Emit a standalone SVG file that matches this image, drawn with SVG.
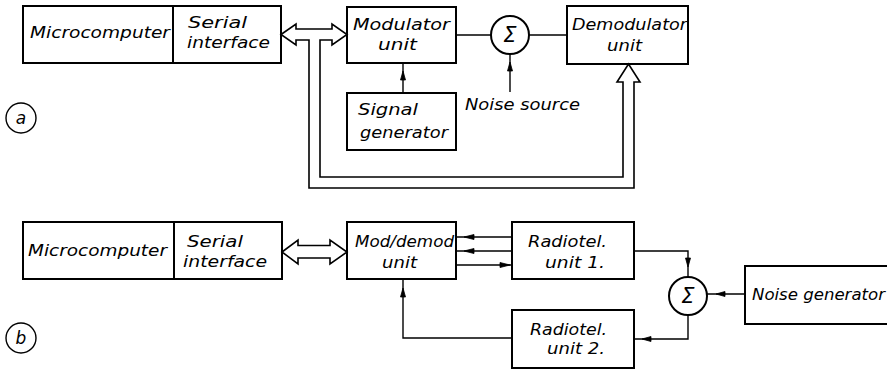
<svg xmlns="http://www.w3.org/2000/svg" width="887" height="370" viewBox="0 0 887 370">
<style>
  .box{fill:#fff;stroke:#000;stroke-width:2}
  .ln{fill:none;stroke:#000;stroke-width:1.4}
  .bus{fill:#fff;stroke:#000;stroke-width:1.6;stroke-linejoin:miter}
  .ah{fill:#000;stroke:#000;stroke-width:0.8}
  .t{font-family:"DejaVu Sans",sans-serif;font-style:italic;font-size:16px;fill:#000}
  .lbl{font-family:"DejaVu Sans",sans-serif;font-style:italic;font-size:17px;fill:#000;text-anchor:middle}
  .sig{font-family:"DejaVu Sans",sans-serif;font-style:italic;font-size:21px;fill:#000;text-anchor:middle}
</style>

<!-- Panel a -->
<g id="a-micro">
  <rect class="box" x="23" y="6" width="150" height="57"/>
  <text class="t" x="30" y="38" textLength="140" lengthAdjust="spacingAndGlyphs">Microcomputer</text>
</g>
<g id="a-serial">
  <rect class="box" x="173" y="6" width="108" height="57"/>
  <text class="t" x="188" y="28" textLength="59" lengthAdjust="spacingAndGlyphs">Serial</text>
  <text class="t" x="187" y="48" textLength="83" lengthAdjust="spacingAndGlyphs">interface</text>
</g>
<g id="a-mod">
  <rect class="box" x="347" y="7" width="109" height="56"/>
  <text class="t" x="353" y="30" textLength="97" lengthAdjust="spacingAndGlyphs">Modulator</text>
  <text class="t" x="378" y="50" textLength="39" lengthAdjust="spacingAndGlyphs">unit</text>
</g>
<g id="a-sum">
  <circle cx="510" cy="35" r="19" fill="#fff" stroke="#000" stroke-width="2"/>
  <text class="sig" x="510" y="42">Σ</text>
</g>
<g id="a-demod">
  <rect class="box" x="567" y="6" width="121" height="58"/>
  <text class="t" x="572" y="30" textLength="115" lengthAdjust="spacingAndGlyphs">Demodulator</text>
  <text class="t" x="607" y="51" textLength="35" lengthAdjust="spacingAndGlyphs">unit</text>
</g>
<g id="a-siggen">
  <rect class="box" x="347" y="93" width="109" height="57"/>
  <text class="t" x="358" y="115" textLength="60" lengthAdjust="spacingAndGlyphs">Signal</text>
  <text class="t" x="360" y="138" textLength="88" lengthAdjust="spacingAndGlyphs">generator</text>
</g>
<g id="a-noise">
  <text class="t" x="465" y="110" textLength="115" lengthAdjust="spacingAndGlyphs">Noise source</text>
</g>
<g id="a-label">
  <circle cx="21" cy="118" r="15" fill="none" stroke="#000" stroke-width="1.4"/>
  <text class="lbl" x="21" y="124">a</text>
</g>

<!-- Panel b -->
<g id="b-micro">
  <rect class="box" x="23" y="222" width="151" height="57"/>
  <text class="t" x="28" y="256" textLength="139" lengthAdjust="spacingAndGlyphs">Microcomputer</text>
</g>
<g id="b-serial">
  <rect class="box" x="174" y="222" width="108" height="57"/>
  <text class="t" x="187" y="247" textLength="56" lengthAdjust="spacingAndGlyphs">Serial</text>
  <text class="t" x="183" y="267" textLength="84" lengthAdjust="spacingAndGlyphs">interface</text>
</g>
<g id="b-moddemod">
  <rect class="box" x="347" y="222" width="109" height="57"/>
  <text class="t" x="355" y="247" textLength="99" lengthAdjust="spacingAndGlyphs">Mod/demod</text>
  <text class="t" x="382" y="268" textLength="35" lengthAdjust="spacingAndGlyphs">unit</text>
</g>
<g id="b-radio1">
  <rect class="box" x="512" y="222" width="122" height="57"/>
  <text class="t" x="528" y="247" textLength="79" lengthAdjust="spacingAndGlyphs">Radiotel.</text>
  <text class="t" x="545" y="268" textLength="60" lengthAdjust="spacingAndGlyphs">unit 1.</text>
</g>
<g id="b-radio2">
  <rect class="box" x="512" y="310" width="122" height="58"/>
  <text class="t" x="530" y="335" textLength="77" lengthAdjust="spacingAndGlyphs">Radiotel.</text>
  <text class="t" x="547" y="354" textLength="58" lengthAdjust="spacingAndGlyphs">unit 2.</text>
</g>
<g id="b-sum">
  <circle cx="688" cy="296" r="19" fill="#fff" stroke="#000" stroke-width="2"/>
  <text class="sig" x="688" y="303">Σ</text>
</g>
<g id="b-noisegen">
  <rect class="box" x="745" y="266" width="145" height="58"/>
  <text class="t" x="752" y="300" textLength="133" lengthAdjust="spacingAndGlyphs">Noise generator</text>
</g>
<g id="b-label">
  <circle cx="21" cy="338" r="15" fill="none" stroke="#000" stroke-width="1.4"/>
  <text class="lbl" x="21" y="344">b</text>
</g>

<g id="connectors">
  <!-- a: bus double arrow with feedback to demodulator -->
  <polygon class="bus" points="281,34.5 296,24 296,29 332,29 332,24 347,34.5 332,45 332,40 320,40 320,177 623,177 623,82 617,82 628.5,64 640,82 634,82 634,188 309,188 309,40 296,40 296,45"/>
  <!-- a: modulator to sum to demodulator -->
  <line class="ln" x1="456" y1="35" x2="491" y2="35"/>
  <line class="ln" x1="529" y1="35" x2="567" y2="35"/>
  <!-- a: signal generator to modulator -->
  <line class="ln" x1="403" y1="93" x2="403" y2="63"/>
  <polygon class="ah" points="403,71 400.5,80 405.5,80"/>
  <!-- a: noise source to sum -->
  <line class="ln" x1="510" y1="92" x2="510" y2="54"/>
  <polygon class="ah" points="510,62 507.5,71 512.5,71"/>

  <!-- b: serial interface to mod/demod double arrow -->
  <polygon class="bus" points="282,252 298,240 298,245.5 330,245.5 330,240 347,252 330,264 330,258 298,258 298,264"/>
  <!-- b: three lines between mod/demod and radiotel 1 -->
  <line class="ln" x1="456" y1="237" x2="512" y2="237"/>
  <polygon class="ah" points="464,237 474,234.5 474,239.5"/>
  <line class="ln" x1="456" y1="251" x2="512" y2="251"/>
  <polygon class="ah" points="464,251 474,248.5 474,253.5"/>
  <line class="ln" x1="456" y1="265" x2="512" y2="265"/>
  <polygon class="ah" points="510,265 500,262.5 500,267.5"/>
  <!-- b: radiotel 2 to mod/demod -->
  <polyline class="ln" points="512,338 403,338 403,279"/>
  <polygon class="ah" points="403,288 400.5,297 405.5,297"/>
  <!-- b: radiotel 1 to sum -->
  <polyline class="ln" points="634,251 688,251 688,277"/>
  <polygon class="ah" points="688,267 685.5,258 690.5,258"/>
  <!-- b: sum to radiotel 2 -->
  <polyline class="ln" points="688,315 688,339 634,339"/>
  <polygon class="ah" points="642,339 651,336.5 651,341.5"/>
  <!-- b: noise generator to sum -->
  <line class="ln" x1="745" y1="294" x2="707" y2="294"/>
  <polygon class="ah" points="716,294 725,291.5 725,296.5"/>
</g>
</svg>
